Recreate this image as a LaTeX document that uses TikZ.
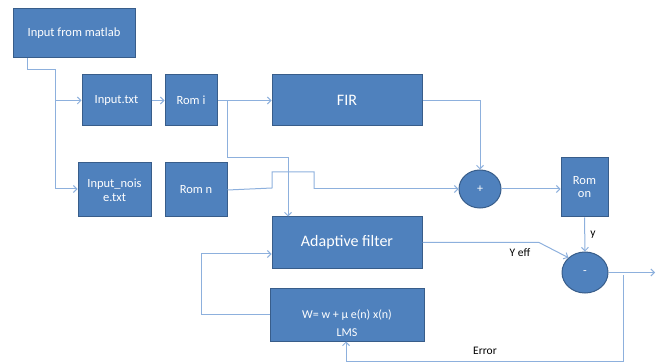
\documentclass[tikz,border=0pt]{standalone}
\usepackage{fontspec}
\setmainfont{Carlito}
\usetikzlibrary{arrows.meta,shapes.geometric}
\definecolor{boxfill}{HTML}{4F81BD}
\definecolor{boxline}{HTML}{385D8A}
\definecolor{wire}{HTML}{8DB0DD}
\tikzset{
  box/.style={draw=boxline, line width=1pt, fill=boxfill, text=white, inner sep=1pt, align=center, font=\fontsize{12.5}{14}\selectfont},
  oval/.style={ellipse, draw=boxline, line width=1pt, fill=boxfill, text=white, inner sep=0pt, font=\fontsize{12}{14}\selectfont},
  wireline/.style={draw=wire, line width=1pt},
  arr/.style={wireline, -{Straight Barb[length=3.5pt,width=7pt]}},
  lbl/.style={text=black, font=\fontsize{11.5}{13}\selectfont, inner sep=0pt}
}
\begin{document}
\begin{tikzpicture}[x=1pt,y=-1pt]
\useasboundingbox (0,0) rectangle (658,363);
% boxes
\node[box, minimum width=122, minimum height=49] (matlab) at (74,33.5) {Input from matlab};
\node[box, minimum width=69, minimum height=51] (intxt) at (116.5,100.5) {Input.txt};
\node[box, minimum width=52, minimum height=51] (romi) at (191,100.5) {Rom i};
\node[box, minimum width=150, minimum height=51, font=\fontsize{16}{18}\selectfont] (fir) at (347,100.5) {FIR};
\node[box, minimum width=73, minimum height=54, font=\fontsize{12.5}{13.5}\selectfont] (noise) at (114.5,190) {Input\_nois\\e.txt};
\node[box, minimum width=62, minimum height=54] (romn) at (196,190) {Rom n};
\node[box, minimum width=150, minimum height=51, font=\fontsize{16}{18}\selectfont] (adapt) at (347,242.5) {Adaptive filter};
\node[box, minimum width=154, minimum height=53] (lms) at (347,314.5) {};
\node[text=white, align=center, inner sep=0pt, font=\fontsize{12}{18}\selectfont] (lmstext) at (347,323) {W= w + µ e(n) x(n)\\LMS};
\node[oval, minimum width=42, minimum height=38] (plus) at (480,189) {+};
\node[box, minimum width=47, minimum height=59, font=\fontsize{12.5}{13}\selectfont] (romon) at (584.5,187.5) {Rom\\on};
\node[oval, minimum width=46, minimum height=41] (minus) at (585,272.5) {-};
% coordinates
\coordinate (out) at (655,272.5);
% connectors
\draw[wireline] (matlab.south -| 27,0) |- (55,70) -- (55,189);
\draw[arr] (55,100.5) -- (intxt.west);
\draw[arr] (55,189) -- (noise.west |- 0,189);
\draw[arr] (intxt.east) -- (romi.west);
\draw[arr] (romi.east) -- (fir.west);
\draw[arr] (227,100.5) |- (288,158) -- (adapt.north -| 288,0);
\draw[wireline] (romn.east |- 0,190) -- (272,188) -- (272,172) -- (314,172) -- (314,189);
\draw[arr] (314,189) -- (plus.west);
\draw[arr] (fir.east) -| (plus.north);
\draw[arr] (plus.east) -- (romon.west |- 0,189);
\draw[arr] (romon.south) -- node[lbl, right=5pt, pos=0.5] {y} (minus.north);
\draw[arr] (adapt.east) -- (539,242.5) -- (minus.north west);
\node[lbl] (yeff) at (520,253) {Y eff};
\draw[arr] (minus.east) -- (out);
\draw[arr] (623,275) -- (623,361) -- (346,361) -- (lms.south -| 346,0);
\node[lbl] (err) at (485,351) {Error};
\draw[arr] (lms.west) -- (201,314.5) |- (adapt.west |- 0,254);
\end{tikzpicture}
\end{document}
